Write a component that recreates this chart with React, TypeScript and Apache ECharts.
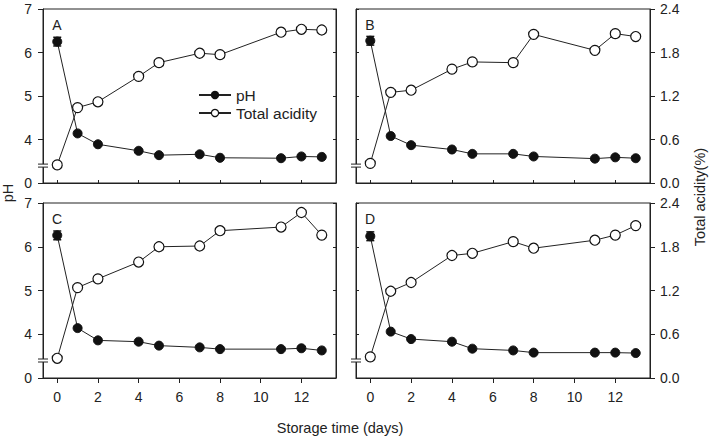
import React, { useEffect, useRef } from "react";
import * as echarts from "echarts";

const days = [0, 1, 2, 4, 5, 7, 8, 11, 12, 13];
const xTicks = [0, 2, 4, 6, 8, 10, 12];
const panelNames = ["A", "B", "C", "D"];

const phA = [6.25, 4.14, 3.89, 3.74, 3.64, 3.66, 3.58, 3.57, 3.61, 3.6];
const acidA = [0.25, 1.04, 1.12, 1.47, 1.66, 1.79, 1.77, 2.08, 2.12, 2.11];
const phB = [6.27, 4.08, 3.87, 3.77, 3.67, 3.67, 3.61, 3.56, 3.59, 3.57];
const acidB = [0.27, 1.25, 1.28, 1.57, 1.67, 1.66, 2.05, 1.83, 2.06, 2.02];
const phC = [6.26, 4.14, 3.86, 3.83, 3.74, 3.7, 3.66, 3.66, 3.68, 3.63];
const acidC = [0.27, 1.24, 1.36, 1.59, 1.8, 1.81, 2.02, 2.07, 2.27, 1.96];
const phD = [6.24, 4.06, 3.89, 3.83, 3.67, 3.63, 3.58, 3.58, 3.58, 3.57];
const acidD = [0.29, 1.19, 1.31, 1.68, 1.71, 1.87, 1.78, 1.89, 1.96, 2.09];
const phErr = [0.1, 0, 0, 0, 0, 0, 0, 0, 0, 0];

const phSeries = [phA, phB, phC, phD];
const acidSeries = [acidA, acidB, acidC, acidD];

const FONT = "'Liberation Sans', Arial, sans-serif";
const INK = "#222";
const TICK_FS = 14;
const TITLE_FS = 14.5;

const grids = [
  { left: 43, top: 9, width: 293, height: 174 },
  { left: 356, top: 9, width: 294, height: 174 },
  { left: 43, top: 203, width: 293, height: 175 },
  { left: 356, top: 203, width: 294, height: 175 },
];
const labelPos = [
  [57, 25],
  [370, 25],
  [57, 219],
  [370, 219],
];

export default function App() {
  const ref = useRef<HTMLDivElement>(null);
  useEffect(() => {
    if (!ref.current) return;
    const chart = echarts.init(ref.current, null, { renderer: "svg" });

    const xAxis = grids.map((_, i) => {
      const bottom = i >= 2;
      return {
        type: "value",
        gridIndex: i,
        min: -0.7,
        max: 13.7,
        position: "bottom",
        splitLine: { show: false },
        axisLine: { show: true, onZero: false, lineStyle: { color: INK, width: 1 } },
        axisTick: {
          show: true,
          inside: !bottom,
          length: bottom ? 5 : 3,
          customValues: xTicks,
          lineStyle: { color: INK },
        },
        axisLabel: {
          show: bottom,
          customValues: xTicks,
          margin: 12,
          fontSize: TICK_FS,
          color: INK,
          fontFamily: FONT,
        },
      };
    });

    const yAxis: any[] = [];
    grids.forEach((_, i) => {
      const leftPanel = i % 2 === 0;
      yAxis.push({
        type: "value",
        gridIndex: i,
        position: "left",
        min: 3,
        max: 7,
        interval: 1,
        splitLine: { show: false },
        axisLine: { show: true, onZero: false, lineStyle: { color: INK } },
        axisTick: {
          show: true,
          inside: !leftPanel,
          length: leftPanel ? 5 : 3,
          lineStyle: { color: INK },
        },
        axisLabel: {
          show: leftPanel,
          margin: 11,
          fontSize: TICK_FS,
          color: INK,
          fontFamily: FONT,
          formatter: (v: number) => (v === 3 ? "0" : String(v)),
        },
      });
      yAxis.push({
        type: "value",
        gridIndex: i,
        position: "right",
        min: 0,
        max: 2.4,
        interval: 0.6,
        splitLine: { show: false },
        axisLine: { show: true, onZero: false, lineStyle: { color: INK } },
        axisTick: {
          show: true,
          inside: leftPanel,
          length: leftPanel ? 3 : 5,
          lineStyle: { color: INK },
        },
        axisLabel: {
          show: !leftPanel,
          margin: 10,
          fontSize: TICK_FS,
          color: INK,
          fontFamily: FONT,
          formatter: (v: number) => v.toFixed(1),
        },
      });
    });

    const series: any[] = [];
    grids.forEach((_, i) => {
      series.push({
        name: "pH",
        type: "line",
        xAxisIndex: i,
        yAxisIndex: 2 * i,
        data: days.map((d, k) => [d, phSeries[i][k]]),
        symbol: "circle",
        symbolSize: 9,
        itemStyle: { color: "#111", borderColor: "#111", borderWidth: 1 },
        lineStyle: { color: INK, width: 1 },
        z: 3,
      });
      series.push({
        name: "Total acidity",
        type: "line",
        xAxisIndex: i,
        yAxisIndex: 2 * i + 1,
        data: days.map((d, k) => [d, acidSeries[i][k]]),
        symbol: "circle",
        symbolSize: 10,
        itemStyle: { color: "#fff", borderColor: "#111", borderWidth: 1.2 },
        lineStyle: { color: INK, width: 1 },
        z: 4,
      });
      series.push({
        name: "err" + i,
        type: "custom",
        xAxisIndex: i,
        yAxisIndex: 2 * i,
        z: 5,
        data: days
          .map((d, k) => [d, phSeries[i][k], phErr[k]])
          .filter((r) => r[2] > 0),
        encode: { x: 0, y: 1 },
        renderItem: (params: any, api: any) => {
          const x = api.value(0);
          const y = api.value(1);
          const e = api.value(2);
          const top = api.coord([x, y + e]);
          const bot = api.coord([x, y - e]);
          const w = 4;
          return {
            type: "group",
            children: [
              { type: "line", shape: { x1: top[0], y1: top[1], x2: bot[0], y2: bot[1] }, style: { stroke: "#111", lineWidth: 1.5 } },
              { type: "line", shape: { x1: top[0] - w, y1: top[1], x2: top[0] + w, y2: top[1] }, style: { stroke: "#111", lineWidth: 1.5 } },
              { type: "line", shape: { x1: bot[0] - w, y1: bot[1], x2: bot[0] + w, y2: bot[1] }, style: { stroke: "#111", lineWidth: 1.5 } },
            ],
          };
        },
      });
    });

    const baseGraphic: any[] = [
      ...panelNames.map((n, i) => ({
        type: "text",
        x: labelPos[i][0],
        y: labelPos[i][1],
        style: { text: n, fontSize: TICK_FS, fill: INK, fontFamily: FONT, align: "center", verticalAlign: "middle" },
      })),
      {
        type: "text",
        x: 8,
        y: 193,
        rotation: Math.PI / 2,
        style: { text: "pH", fontSize: TITLE_FS, fill: INK, fontFamily: FONT, align: "center", verticalAlign: "middle" },
      },
      {
        type: "text",
        x: 700,
        y: 197,
        rotation: Math.PI / 2,
        style: { text: "Total acidity(%)", fontSize: TITLE_FS, fill: INK, fontFamily: FONT, align: "center", verticalAlign: "middle" },
      },
      {
        type: "text",
        x: 340,
        y: 428,
        style: { text: "Storage time (days)", fontSize: TITLE_FS, fill: INK, fontFamily: FONT, align: "center", verticalAlign: "middle" },
      },
    ];

    chart.setOption({
      animation: false,
      textStyle: { fontFamily: FONT },
      grid: grids.map((g) => ({ ...g, show: true, borderColor: INK, borderWidth: 1, backgroundColor: "transparent" })),
      xAxis,
      yAxis,
      legend: {
        data: ["pH", "Total acidity"],
        orient: "vertical",
        left: 193,
        top: 82,
        itemWidth: 32,
        itemHeight: 9,
        itemGap: 2,
        itemStyle: { borderWidth: 1.2 },
        textStyle: { fontSize: 15.5, color: INK, fontFamily: FONT },
      },
      series,
      graphic: baseGraphic,
    });

    // axis break marks on the pH axis
    const breakVal = 3.4;
    const breaks: any[] = [];
    grids.forEach((_, i) => {
      const p = chart.convertToPixel({ xAxisIndex: i, yAxisIndex: 2 * i } as any, [-0.7, breakVal]) as number[];
      if (!p) return;
      const [bx, by] = p;
      breaks.push({ type: "rect", shape: { x: bx - 2, y: by - 1.5, width: 4, height: 3 }, style: { fill: "#fff" }, z: 10 });
      breaks.push({ type: "line", shape: { x1: bx - 5, y1: by - 1.5, x2: bx + 5, y2: by - 1.5 }, style: { stroke: INK, lineWidth: 1 }, z: 11 });
      breaks.push({ type: "line", shape: { x1: bx - 5, y1: by + 1.5, x2: bx + 5, y2: by + 1.5 }, style: { stroke: INK, lineWidth: 1 }, z: 11 });
    });
    chart.setOption({ graphic: [...baseGraphic, ...breaks] });

    return () => chart.dispose();
  }, []);

  return (
    <div
      ref={ref}
      style={{ position: "fixed", left: 0, top: 0, width: 709, height: 441, background: "#fff" }}
    />
  );
}
